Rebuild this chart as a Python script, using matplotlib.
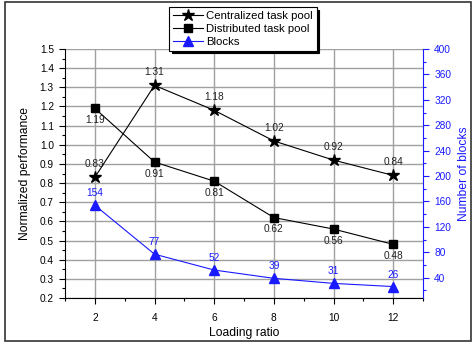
import matplotlib
matplotlib.use('Agg')
import matplotlib.pyplot as plt
from matplotlib.ticker import MultipleLocator
from matplotlib.patches import Rectangle

plt.rcParams['font.family'] = ['Liberation Sans', 'DejaVu Sans']

# data
ratio = [2, 4, 6, 8, 10, 12]
centralized = [0.83, 1.31, 1.18, 1.02, 0.92, 0.84]
distributed = [1.19, 0.91, 0.81, 0.62, 0.56, 0.48]
blocks = [154, 77, 52, 39, 31, 26]

blue = '#1a1aff'

fig = plt.figure(figsize=(4.72, 3.43), dpi=100)
ax = fig.add_axes([65/472, 1-298/343, (423-65)/472, (298-49)/343])
ax2 = ax.twinx()

l1, = ax.plot(ratio, centralized, '-', color='black', lw=0.8, marker='*', ms=9, mfc='black', mec='black', zorder=5)
l2, = ax.plot(ratio, distributed, '-', color='black', lw=0.8, marker='s', ms=5.5, mfc='black', mec='black', zorder=5)
l3, = ax2.plot(ratio, blocks, '-', color=blue, lw=0.8, marker='^', ms=7, mfc=blue, mec=blue, zorder=5)

for x, v in zip(ratio, centralized):
    ax.annotate(f'{v:.2f}', (x, v), xytext=(0, 6), textcoords='offset points', ha='center', va='bottom', fontsize=7.3, color='#222222')
for x, v in zip(ratio, distributed):
    ax.annotate(f'{v:.2f}', (x, v), xytext=(0, -5), textcoords='offset points', ha='center', va='top', fontsize=7.3, color='#222222')
for x, v in zip(ratio, blocks):
    ax2.annotate(f'{v}', (x, v), xytext=(0, 5), textcoords='offset points', ha='center', va='bottom', fontsize=7.3, color=blue)

ax.set_xlim(1, 13)
ax.set_ylim(0.2, 1.5)
ax2.set_ylim(8, 400)
ax.xaxis.set_major_locator(MultipleLocator(2))
ax.xaxis.set_minor_locator(MultipleLocator(1))
ax.yaxis.set_major_locator(MultipleLocator(0.1))
ax.yaxis.set_minor_locator(MultipleLocator(0.05))
ax2.yaxis.set_major_locator(MultipleLocator(40))
ax2.yaxis.set_minor_locator(MultipleLocator(20))
ax.yaxis.set_major_formatter(matplotlib.ticker.FormatStrFormatter('%.1f'))

ax.grid(True, which='major', color='#a0a0a0', lw=1.0, ls='-')
ax.set_axisbelow(True)

ax.tick_params(which='both', direction='out', labelsize=7.3, pad=4)
ax.tick_params(which='major', length=4, width=0.8)
ax.tick_params(which='minor', length=2, width=0.8)
ax.tick_params(axis='x', pad=7)
ax2.tick_params(which='both', direction='out', labelsize=7.3, colors=blue, pad=4)
ax2.tick_params(which='major', length=4, width=0.8)
ax2.tick_params(which='minor', length=2, width=0.8)

ax.spines['top'].set_visible(False)
ax2.spines['top'].set_visible(False)
ax2.spines['left'].set_visible(False)
ax.spines['right'].set_visible(False)
ax2.spines['right'].set_color(blue)
ax2.spines['bottom'].set_visible(False)

ax.set_xlabel('Loading ratio', fontsize=8.7, labelpad=3)
ax.set_ylabel('Normalized performance', fontsize=8.7, labelpad=6)
ax2.set_ylabel('Number of blocks', fontsize=8.7, color=blue, labelpad=5)

leg = fig.legend([l1, l2, l3], ['Centralized task pool', 'Distributed task pool', 'Blocks'],
                 loc='upper left', bbox_to_anchor=(169/472, 1-7/343), fontsize=8.2,
                 frameon=True, fancybox=False, edgecolor='black', framealpha=1,
                 shadow={'facecolor': 'black', 'edgecolor': 'black', 'alpha': 1},
                 numpoints=1, handlelength=2.6, handletextpad=0.3, borderpad=0.35,
                 labelspacing=0.25, borderaxespad=0)
leg.get_frame().set_linewidth(0.8)
for t in leg.get_texts():
    t.set_color('black')

# outer frame around the figure (right edge sits at the image border)
fig.patches.append(Rectangle((5/472, 1-341/343), 466/472, 339/343, transform=fig.transFigure,
                             fill=False, edgecolor='#333333', lw=1.2))

fig.savefig('out.png', dpi=100)
